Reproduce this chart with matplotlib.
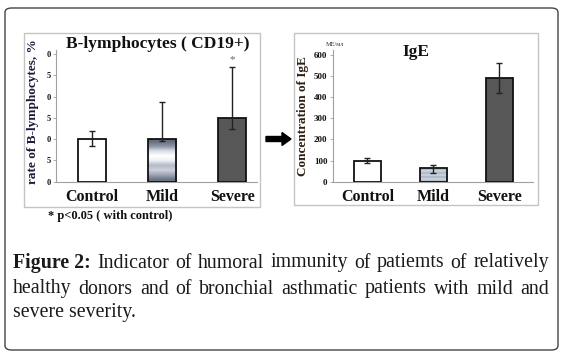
import numpy as np
import matplotlib
matplotlib.use("Agg")
import matplotlib.pyplot as plt
from matplotlib.patches import Rectangle, FancyBboxPatch, FancyArrow

W, H = 563, 358

# data
groups = ["Control", "Mild", "Severe"]

cd19_values = [10, 10, 15]
cd19_err_low = [8.4, 9.5, 12.3]
cd19_err_high = [12.0, 18.7, 27.0]
cd19_ticks = [0, 5, 10, 15, 20, 25, 30]
cd19_tick_labels = ["0", "5", "0", "5", "0", "5", "0"]

ige_values = [100, 65, 490]
ige_err_low = [88, 40, 420]
ige_err_high = [112, 80, 560]
ige_ticks = [0, 100, 200, 300, 400, 500, 600]
ige_tick_labels = ["0", "100", "200", "300", "400", "500", "600"]

caption_lines = [
    [("Figure 2:", True), ("Indicator", False), ("of", False), ("humoral", False), ("immunity", False),
     ("of", False), ("patiemts", False), ("of", False), ("relatively", False)],
    [("healthy", False), ("donors", False), ("and", False), ("of", False), ("bronchial", False),
     ("asthmatic", False), ("patients", False), ("with", False), ("mild", False), ("and", False)],
    [("severe severity.", False)],
]

SERIF = "Liberation Serif"


def px_box(x0, y0, x1, y1):
    # pixel box (top-left origin) -> figure fraction rect
    return [x0 / W, 1 - y1 / H, (x1 - x0) / W, (y1 - y0) / H]


def fx(x):
    return x / W


def fy(y):
    return 1 - y / H


def gradient_bar(ax, bar, profile):
    x, y = bar.get_x(), bar.get_y()
    w, h = bar.get_width(), bar.get_height()
    img = np.array(profile)[::-1].reshape(-1, 1, 3)
    im = ax.imshow(img, extent=[x, x + w, y, y + h], aspect="auto",
                   interpolation="bilinear", zorder=2)
    im.set_clip_path(bar)


def style_axes(ax, tick_size):
    for s in ["top", "right"]:
        ax.spines[s].set_visible(False)
    for s in ["left", "bottom"]:
        ax.spines[s].set_color("#a0a0a0")
        ax.spines[s].set_linewidth(0.8)
    ax.tick_params(axis="y", length=2, width=0.6, color="#a0a0a0", pad=2,
                   labelsize=tick_size)
    ax.tick_params(axis="x", length=0, pad=5, labelsize=11.5)
    for lab in ax.get_yticklabels() + ax.get_xticklabels():
        lab.set_fontfamily(SERIF)
        lab.set_fontweight("bold")
        lab.set_color("#111111")
    ax.set_facecolor("white")


fig = plt.figure(figsize=(W / 100, H / 100), dpi=100)
fig.patch.set_facecolor("white")

# outer rounded frame
fig.patches.append(FancyBboxPatch((fx(5), fy(350)), fx(553), 342 / H,
                                  boxstyle="round,pad=0,rounding_size=0.012",
                                  transform=fig.transFigure, facecolor="none",
                                  edgecolor="#444444", linewidth=1.0))

# panel frames
fig.patches.append(Rectangle((fx(24), fy(207)), fx(236), 174 / H, transform=fig.transFigure,
                             facecolor="none", edgecolor="#c4c4c4", linewidth=1.0))
fig.patches.append(Rectangle((fx(294), fy(205)), fx(244), 172 / H, transform=fig.transFigure,
                             facecolor="none", edgecolor="#c4c4c4", linewidth=1.0))

pos = np.arange(len(groups))
control_style = dict(facecolor="white", edgecolor="#111111", linewidth=1.3)
severe_style = dict(facecolor="#575757", edgecolor="#111111", linewidth=1.3)
mild_style = dict(facecolor="none", edgecolor="#111111", linewidth=1.3)

# ---- left: B-lymphocytes
ax1 = fig.add_axes(px_box(56, 50, 257, 181.7))
bars1 = ax1.bar(pos, cd19_values, width=0.4, zorder=3)
for b, st in zip(bars1, [control_style, mild_style, severe_style]):
    b.set(**st)
mild_profile_left = [[0.42, 0.45, 0.50], [0.62, 0.65, 0.70], [0.80, 0.82, 0.86],
                     [0.70, 0.73, 0.78], [0.93, 0.94, 0.96], [1.0, 1.0, 1.0],
                     [0.85, 0.87, 0.90], [0.55, 0.58, 0.64], [0.40, 0.43, 0.49]]
gradient_bar(ax1, bars1[1], mild_profile_left)
yerr1 = [np.array(cd19_values) - np.array(cd19_err_low), np.array(cd19_err_high) - np.array(cd19_values)]
ax1.errorbar(pos, cd19_values, yerr=yerr1, fmt="none", ecolor="#222222",
             elinewidth=1.0, capsize=2.5, capthick=1.0, zorder=4)
ax1.text(pos[2], cd19_err_high[2] + 0.6, "*", ha="center", va="bottom", fontsize=8,
         color="#666666", family=SERIF)
ax1.set_xlim(-0.51, 2.35)
ax1.set_ylim(0, 31)
ax1.set_yticks(cd19_ticks)
ax1.set_yticklabels(cd19_tick_labels)
ax1.set_xticks(pos)
ax1.set_xticklabels(groups)
style_axes(ax1, 6)
fig.text(fx(33), fy(112), "rate of B-lymphocytes, %", rotation=90, ha="center", va="center",
         fontsize=9.5, fontweight="bold", family=SERIF, color="#1c1c3a")
fig.text(fx(158), fy(44), "B-lymphocytes ( CD19+)", ha="center", va="center",
         fontsize=12.5, fontweight="bold", family=SERIF, color="#111111")
fig.text(fx(48), fy(216), "* p<0.05 ( with control)", ha="left", va="center",
         fontsize=9, fontweight="bold", family=SERIF, color="#111111")

# ---- right: IgE
ax2 = fig.add_axes(px_box(333, 50, 533, 181.7))
bars2 = ax2.bar(pos, ige_values, width=0.41, zorder=3)
for b, st in zip(bars2, [control_style, mild_style, severe_style]):
    b.set(**st)
mild_profile_right = [[0.66, 0.70, 0.76], [0.82, 0.85, 0.89], [0.66, 0.70, 0.76],
                      [0.82, 0.85, 0.89], [0.66, 0.70, 0.76], [0.82, 0.85, 0.89],
                      [0.66, 0.70, 0.76]]
gradient_bar(ax2, bars2[1], mild_profile_right)
yerr2 = [np.array(ige_values) - np.array(ige_err_low), np.array(ige_err_high) - np.array(ige_values)]
ax2.errorbar(pos, ige_values, yerr=yerr2, fmt="none", ecolor="#222222",
             elinewidth=1.0, capsize=2.5, capthick=1.0, zorder=4)
ax2.set_xlim(-0.52, 2.51)
ax2.set_ylim(0, 623)
ax2.set_yticks(ige_ticks)
ax2.set_yticklabels(ige_tick_labels)
ax2.set_xticks(pos)
ax2.set_xticklabels(groups)
style_axes(ax2, 6.5)
fig.text(fx(303), fy(116), "Concentration of IgE", rotation=90, ha="center", va="center",
         fontsize=9.5, fontweight="bold", family=SERIF, color="#2e2010")
fig.text(fx(416), fy(52), "IgE", ha="center", va="center",
         fontsize=12.5, fontweight="bold", family=SERIF, color="#111111")
fig.text(fx(335), fy(45), "ME/мл", ha="center", va="center",
         fontsize=4.5, family=SERIF, color="#333333")

# arrow between panels
fig.add_artist(FancyArrow(fx(266), fy(139), fx(25), 0, width=5 / H,
                          head_width=13 / H, head_length=fx(9),
                          length_includes_head=True,
                          transform=fig.transFigure, color="black"))

# caption, justified like the original
fig.canvas.draw()
renderer = fig.canvas.get_renderer()
left_px, right_px = 13, 549
line_y = [263, 289, 313]
for i, words in enumerate(caption_lines):
    texts = []
    for w, bold in words:
        t = fig.text(0, fy(line_y[i]), w, ha="left", va="center", fontsize=14.3,
                     family=SERIF, fontweight="bold" if bold else "normal", color="#1a1a1a")
        texts.append(t)
    widths = [t.get_window_extent(renderer).width for t in texts]
    if len(texts) > 1 and i < len(caption_lines) - 1:
        gap = (right_px - left_px - sum(widths)) / (len(texts) - 1)
    else:
        gap = 4
    x = left_px
    for t, wd in zip(texts, widths):
        t.set_x(fx(x))
        x += wd + gap

fig.savefig("out.png", dpi=100, facecolor="white")
